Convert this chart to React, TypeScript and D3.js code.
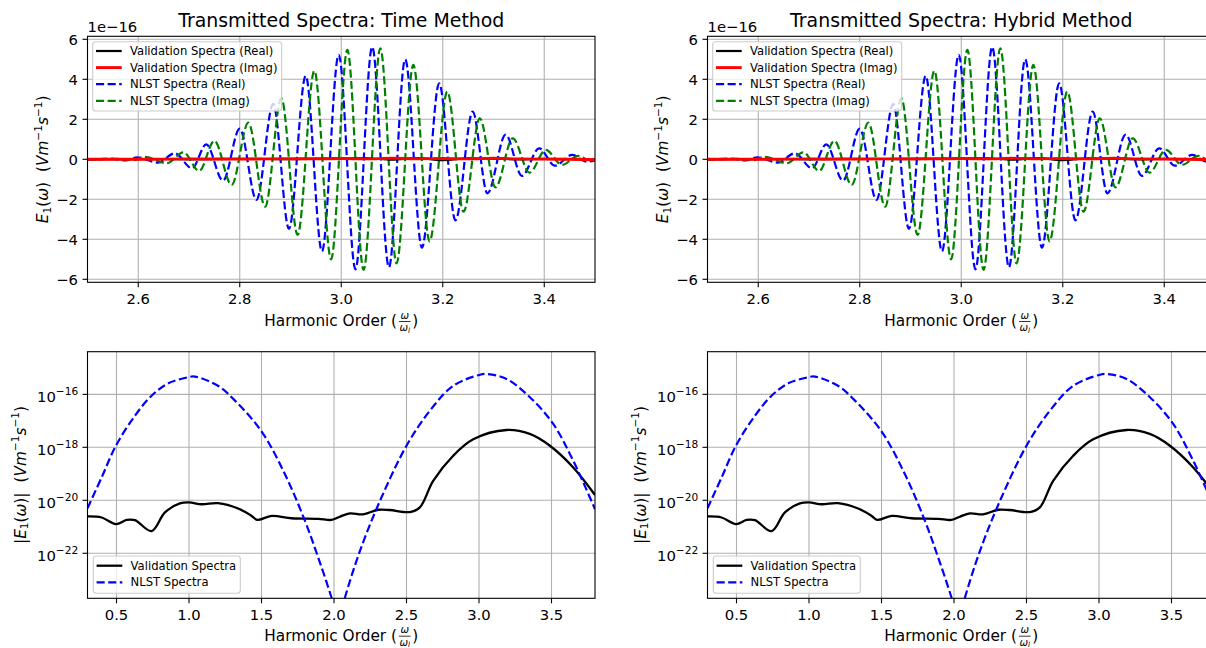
import React from 'react';
import * as d3 from 'd3';

const W = 1206;
const H = 648;
const FONT = "'DejaVu Sans', sans-serif";

// ---------- top panels: complex spectra (values in units of 1e-16) ----------
const nlstRealX = [2.5, 2.55, 2.575, 2.598, 2.639, 2.672, 2.706, 2.734, 2.767, 2.8, 2.833, 2.866, 2.897, 2.93, 2.962, 2.995, 3.028, 3.061, 3.094, 3.126, 3.159, 3.193, 3.225, 3.259, 3.288, 3.324, 3.356, 3.39, 3.421, 3.455, 3.484, 3.5];
const nlstRealY = [0, 0.02, -0.06, 0.1, -0.17, 0.3, -0.45, 0.75, -1.07, 1.53, -2.03, 2.77, -3.48, 4.17, -4.6, 5.22, -5.5, 5.62, -5.4, 5.0, -4.42, 3.8, -3.05, 2.38, -1.7, 1.23, -0.83, 0.55, -0.32, 0.22, -0.12, -0.05];
const nlstImagX = [2.5, 2.56, 2.59, 2.613, 2.656, 2.689, 2.72, 2.75, 2.784, 2.817, 2.85, 2.882, 2.914, 2.947, 2.98, 3.012, 3.044, 3.077, 3.109, 3.142, 3.174, 3.209, 3.241, 3.273, 3.304, 3.338, 3.371, 3.403, 3.435, 3.467, 3.49, 3.5];
const nlstImagY = [0, 0.02, -0.04, 0.12, -0.2, 0.35, -0.58, 0.92, -1.28, 1.83, -2.37, 3.05, -3.78, 4.43, -5.0, 5.47, -5.53, 5.55, -5.2, 4.72, -4.1, 3.38, -2.62, 2.05, -1.4, 1.05, -0.67, 0.47, -0.28, 0.17, -0.05, 0.02];
const valX = [2.5, 2.6, 2.7, 2.8, 2.9, 2.95, 3.0, 3.05, 3.1, 3.15, 3.2, 3.25, 3.3, 3.35, 3.4, 3.45, 3.5];
const valRealY = [0, 0.01, 0.0, 0.02, 0.01, 0.03, 0.04, 0.05, -0.02, 0.06, -0.04, 0.05, 0.03, 0.0, 0.02, 0.01, -0.03];
const valImagY = [0, 0.0, 0.02, 0.01, 0.03, 0.02, 0.04, 0.02, 0.05, 0.03, 0.04, 0.02, 0.05, 0.02, 0.01, 0.0, -0.02];

// ---------- bottom panels: |E| on log scale ----------
const absNlstX = [0.3, 0.397, 0.496, 0.627, 0.742, 0.857, 1.0, 1.04, 1.2, 1.317, 1.5, 1.661, 1.8, 1.891, 1.983, 2.03, 2.075, 2.179, 2.317, 2.5, 2.661, 2.822, 3.006, 3.052, 3.19, 3.351, 3.512, 3.65, 3.8];
const absNlstY = [5.0e-21, 7.2e-20, 1.15e-18, 1.55e-17, 8.9e-17, 2.6e-16, 4.5e-16, 4.7e-16, 2.1e-16, 5.8e-17, 4.0e-18, 9.8e-20, 1.66e-21, 6.9e-23, 2.1e-24, 2.5e-25, 2.1e-24, 1.23e-22, 9.5e-21, 1.15e-18, 2.4e-17, 2.1e-16, 5.5e-16, 5.9e-16, 3.8e-16, 7.8e-17, 7.6e-18, 3.1e-19, 4.6e-21];
const absValX = [0.3, 0.397, 0.496, 0.57, 0.627, 0.742, 0.834, 0.937, 1.0, 1.087, 1.2, 1.339, 1.432, 1.47, 1.57, 1.708, 1.891, 1.983, 2.04, 2.11, 2.2, 2.305, 2.385, 2.524, 2.592, 2.684, 2.822, 2.96, 3.19, 3.35, 3.489, 3.65, 3.8];
const absValY = [2.45e-21, 2.24e-21, 1.26e-21, 1.82e-21, 1.78e-21, 6.9e-22, 3.5e-21, 7.6e-21, 8.3e-21, 7.1e-21, 7.8e-21, 4.9e-21, 2.57e-21, 1.82e-21, 2.57e-21, 2.1e-21, 2.0e-21, 1.82e-21, 2.4e-21, 3.2e-21, 2.95e-21, 4.4e-21, 4.3e-21, 3.6e-21, 5.4e-21, 5.4e-20, 4.8e-19, 2.0e-18, 4.5e-18, 3.2e-18, 1.15e-18, 1.74e-19, 1.58e-20];

// ---------- axes / ticks / labels ----------
const topXDomain = [2.5, 3.5];
const topYDomain = [-6.15, 6.15];
const topXTicks = [2.6, 2.8, 3.0, 3.2, 3.4];
const topYTicks = [-6, -4, -2, 0, 2, 4, 6];
const botXDomain = [0.3, 3.8];
const botYDomain = [Math.pow(10, -23.7), Math.pow(10, -14.39)];
const botXTicks = [0.5, 1.0, 1.5, 2.0, 2.5, 3.0, 3.5];
const botYTicks = [1e-22, 1e-20, 1e-18, 1e-16];
const titles = ['Transmitted Spectra: Time Method', 'Transmitted Spectra: Hybrid Method'];
const offsetLabel = '1e\u221216';
const topLegend = ['Validation Spectra (Real)', 'Validation Spectra (Imag)', 'NLST Spectra (Real)', 'NLST Spectra (Imag)'];
const botLegend = ['Validation Spectra', 'NLST Spectra'];

const PANEL_OFFSETS = [0, 620];
const AX = { left: 87.5, right: 595, topY0: 36.3, topY1: 282.3, botY0: 351.7, botY1: 598.3 };
const TICK_FS = 14.8;
const LABEL_FS = 15.3;
const SUP_FS = 10.6;
const LEG_FS = 11.6;
const GRID = '#b0b0b0';
const DASH = '8.1 3.5';

const minus = (s: string) => s.replace('-', '\u2212');

type Series = { xs: number[]; ys: number[]; color: string; dash?: string; w: number };

function pathFor(xs: number[], ys: number[], x: any, y: any, curve: any) {
  const pts = xs.map((v, i) => [v, ys[i]] as [number, number]);
  return d3.line<[number, number]>().x(d => x(d[0])).y(d => y(d[1])).curve(curve)(pts) || '';
}

function Legend({ x0, y0, w, h, rowY, items, series }: any) {
  return (
    <g>
      <rect x={x0} y={y0} width={w} height={h} rx={3} fill="#fff" fillOpacity={0.8} stroke="#cccccc" strokeWidth={1.1} />
      {items.map((t: string, i: number) => (
        <g key={i}>
          <line x1={x0 + 3.3} x2={x0 + 29} y1={rowY[i]} y2={rowY[i]} stroke={series[i].color} strokeWidth={series[i].w} strokeDasharray={series[i].dash} />
          <text x={x0 + 37.3} y={rowY[i] + 4.1} fontSize={LEG_FS} fill="#000">{t}</text>
        </g>
      ))}
    </g>
  );
}

function XLabel({ cx, y }: { cx: number; y: number }) {
  const fc = cx + 63.5;
  return (
    <g fontSize={LABEL_FS} fill="#000">
      <text x={cx - 77} y={y}>Harmonic Order (</text>
      <text x={fc} y={y - 7.6} fontSize={10.2} textAnchor="middle" fontStyle="italic">ω</text>
      <line x1={fc - 5.8} x2={fc + 5.8} y1={y - 4.6} y2={y - 4.6} stroke="#000" strokeWidth={0.8} />
      <text x={fc} y={y + 4.9} fontSize={10.2} textAnchor="middle"><tspan fontStyle="italic">ω</tspan><tspan fontSize={7.2} dy={1.5} fontStyle="italic">l</tspan></text>
      <text x={fc + 7.4} y={y}>)</text>
    </g>
  );
}

function YLabel({ x, cy, abs }: { x: number; cy: number; abs: boolean }) {
  return (
    <text transform={`translate(${x},${cy}) rotate(-90)`} textAnchor="middle" fontSize={LABEL_FS} fill="#000">
      {abs ? <tspan>|</tspan> : null}<tspan fontStyle="italic">E</tspan><tspan fontSize={SUP_FS} dy={2.7}>1</tspan><tspan dy={-2.7}>(</tspan><tspan fontStyle="italic">ω</tspan><tspan>)</tspan>{abs ? <tspan>|</tspan> : null}<tspan dx={10}>(</tspan><tspan fontStyle="italic">Vm</tspan><tspan fontSize={SUP_FS} dy={-6.3}>−1</tspan><tspan fontStyle="italic" dy={6.3}>s</tspan><tspan fontSize={SUP_FS} dy={-6.3}>−1</tspan><tspan dy={6.3}>)</tspan>
    </text>
  );
}

function TopPanel({ off, title, id }: { off: number; title: string; id: number }) {
  const x = d3.scaleLinear().domain(topXDomain).range([AX.left + off, AX.right + off]);
  const y = d3.scaleLinear().domain(topYDomain).range([AX.topY1, AX.topY0]);
  const [x0, x1] = x.range();
  const [y1, y0] = y.range();
  const series: Series[] = [
    { xs: valX, ys: valRealY, color: '#000000', w: 2.2 },
    { xs: valX, ys: valImagY, color: '#ff0000', w: 2.9 },
    { xs: nlstRealX, ys: nlstRealY, color: '#0000ff', dash: DASH, w: 2.2 },
    { xs: nlstImagX, ys: nlstImagY, color: '#008000', dash: DASH, w: 2.2 },
  ];
  const drawOrder = [2, 3, 0, 1];
  const cid = `clipTop${id}`;
  return (
    <g>
      <defs><clipPath id={cid}><rect x={x0} y={y0} width={x1 - x0} height={y1 - y0} /></clipPath></defs>
      {topXTicks.map(t => <line key={'gx' + t} x1={x(t)} x2={x(t)} y1={y0} y2={y1} stroke={GRID} strokeWidth={1.1} />)}
      {topYTicks.map(t => <line key={'gy' + t} x1={x0} x2={x1} y1={y(t)} y2={y(t)} stroke={GRID} strokeWidth={1.1} />)}
      <g clipPath={`url(#${cid})`}>
        {drawOrder.map(i => (
          <path key={i} d={pathFor(series[i].xs, series[i].ys, x, y, d3.curveMonotoneX)} fill="none" stroke={series[i].color} strokeWidth={series[i].w} strokeDasharray={series[i].dash} />
        ))}
      </g>
      <rect x={x0} y={y0} width={x1 - x0} height={y1 - y0} fill="none" stroke="#000" strokeWidth={1.1} />
      {topXTicks.map(t => (
        <g key={'tx' + t}>
          <line x1={x(t)} x2={x(t)} y1={y1} y2={y1 + 5} stroke="#000" strokeWidth={1.1} />
          <text x={x(t)} y={y1 + 21.5} textAnchor="middle" fontSize={TICK_FS}>{d3.format('.1f')(t)}</text>
        </g>
      ))}
      {topYTicks.map(t => (
        <g key={'ty' + t}>
          <line x1={x0 - 5} x2={x0} y1={y(t)} y2={y(t)} stroke="#000" strokeWidth={1.1} />
          <text x={x0 - 9.5} y={y(t) + 5.3} textAnchor="end" fontSize={TICK_FS}>{minus(String(t))}</text>
        </g>
      ))}
      <text x={x0} y={31.5} fontSize={TICK_FS}>{offsetLabel}</text>
      <text x={(x0 + x1) / 2} y={27} textAnchor="middle" fontSize={18.9}>{title}</text>
      <XLabel cx={(x0 + x1) / 2} y={y1 + 43.8} />
      <YLabel x={48 + off} cy={(y0 + y1) / 2} abs={false} />
      <Legend x0={x0 + 5.2} y0={y0 + 5.4} w={189} h={69.3} rowY={[0, 1, 2, 3].map(i => y0 + 14.7 + i * 16.6)} items={topLegend} series={series} />
    </g>
  );
}

function BottomPanel({ off, id }: { off: number; id: number }) {
  const x = d3.scaleLinear().domain(botXDomain).range([AX.left + off, AX.right + off]);
  const y = d3.scaleLog().domain(botYDomain).range([AX.botY1, AX.botY0]);
  const [x0, x1] = x.range();
  const [y1, y0] = y.range();
  const series: Series[] = [
    { xs: absValX, ys: absValY, color: '#000000', w: 2.3 },
    { xs: absNlstX, ys: absNlstY, color: '#0000ff', dash: DASH, w: 2.2 },
  ];
  const cid = `clipBot${id}`;
  return (
    <g>
      <defs><clipPath id={cid}><rect x={x0} y={y0} width={x1 - x0} height={y1 - y0} /></clipPath></defs>
      {botXTicks.map(t => <line key={'gx' + t} x1={x(t)} x2={x(t)} y1={y0} y2={y1} stroke={GRID} strokeWidth={1.1} />)}
      {botYTicks.map(t => <line key={'gy' + t} x1={x0} x2={x1} y1={y(t)} y2={y(t)} stroke={GRID} strokeWidth={1.1} />)}
      <g clipPath={`url(#${cid})`}>
        {series.map((s, i) => (
          <path key={i} d={pathFor(s.xs, s.ys, x, y, d3.curveCatmullRom.alpha(0.5))} fill="none" stroke={s.color} strokeWidth={s.w} strokeDasharray={s.dash} />
        ))}
      </g>
      <rect x={x0} y={y0} width={x1 - x0} height={y1 - y0} fill="none" stroke="#000" strokeWidth={1.1} />
      {botXTicks.map(t => (
        <g key={'tx' + t}>
          <line x1={x(t)} x2={x(t)} y1={y1} y2={y1 + 5} stroke="#000" strokeWidth={1.1} />
          <text x={x(t)} y={y1 + 21.5} textAnchor="middle" fontSize={TICK_FS}>{d3.format('.1f')(t)}</text>
        </g>
      ))}
      {botYTicks.map(t => (
        <g key={'ty' + t}>
          <line x1={x0 - 5} x2={x0} y1={y(t)} y2={y(t)} stroke="#000" strokeWidth={1.1} />
          <text x={x0 - 9.3} y={y(t) + 7.4} textAnchor="end" fontSize={TICK_FS}>10<tspan fontSize={SUP_FS} dy={-6.8}>{minus(String(Math.round(Math.log10(t))))}</tspan></text>
        </g>
      ))}
      <XLabel cx={(x0 + x1) / 2} y={y1 + 42.5} />
      <YLabel x={25.5 + off} cy={(y0 + y1) / 2} abs={true} />
      <Legend x0={x0 + 5.8} y0={y1 - 42.3} w={147} h={37.3} rowY={[y1 - 32.6, y1 - 16]} items={botLegend} series={series} />
    </g>
  );
}

export default function App() {
  return (
    <div style={{ position: 'absolute', left: 0, top: 0, width: W, height: H, overflow: 'hidden', background: '#fff' }}>
      <svg width={W} height={H} fontFamily={FONT} style={{ display: 'block' }}>
        <rect width={W} height={H} fill="#fff" />
        {titles.map((t, i) => (
          <g key={i}>
            <TopPanel off={PANEL_OFFSETS[i]} title={t} id={i} />
            <BottomPanel off={PANEL_OFFSETS[i]} id={i} />
          </g>
        ))}
      </svg>
    </div>
  );
}
